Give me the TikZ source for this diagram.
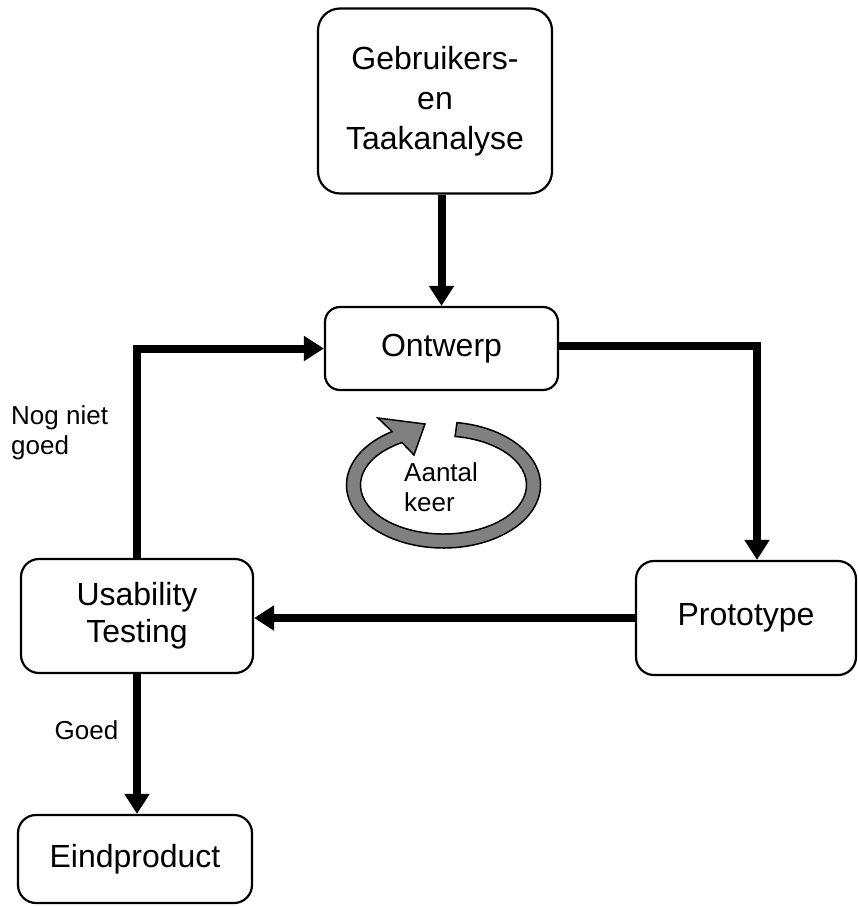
\documentclass[tikz,border=0pt]{standalone}
\usepackage{fontspec}
\setmainfont{Liberation Sans}
\usetikzlibrary{arrows.meta,calc}
\definecolor{ringgray}{RGB}{128,128,128}
\begin{document}
\begin{tikzpicture}[x=1pt,y=-1pt,
  box/.style={draw, line width=2.2pt, rounded corners=18pt, align=center, inner sep=0pt,
    font=\fontsize{32}{37}\selectfont},
  conn/.style={line width=8pt, line join=miter, -{Triangle[length=20pt,width=24pt]}},
  lbl/.style={align=left, inner sep=0pt, font=\fontsize{26}{30}\selectfont}]
\useasboundingbox (0,0) rectangle (858,907);

\node[box, minimum width=234pt, minimum height=185pt, rounded corners=22pt,
  font=\fontsize{32}{40}\selectfont] (top) at (435,101) {Gebruikers-\\en\\Taakanalyse};
\node[box, minimum width=233pt, minimum height=83pt, rounded corners=15pt] (ont) at (441.5,348.5) {Ontwerp};
\node[box, minimum width=220pt, minimum height=114pt] (proto) at (746,618) {Prototype};
\node[box, minimum width=232pt, minimum height=114pt] (usab) at (137,616) {Usability\\Testing};
\node[box, minimum width=234pt, minimum height=88pt] (eind) at (135,859) {Eindproduct};

\coordinate (pin) at ([xshift=11pt]proto.north);
\draw[conn] (ont.north |- top.south) -- (ont.north);
\draw[conn] ([yshift=3pt]ont.east) -| (pin);
\draw[conn] (proto.west) -- (usab.east |- proto.west);
\draw[conn] (usab.north) |- (ont.west);
\draw[conn] (usab.south) -- (usab.south |- eind.north);

\node[lbl, anchor=west] (nog) at (11,433) {Nog niet\\goed};
\node[lbl] (goed) at (86.5,730) {Goed};

\filldraw[fill=ringgray, draw=black, line width=1.5pt, line join=miter]
  (443.5,485) ++(-82:97 and 63) arc[start angle=-82, end angle=238, x radius=97, y radius=63]
  -- (378,418) -- (425,424) -- (414,455)
  -- ($(443.5,485)+(240:83 and 49)$) arc[start angle=240, end angle=-82, x radius=83, y radius=49]
  -- cycle;
\node[lbl, anchor=west] (aantal) at (404,487) {Aantal\\keer};
\end{tikzpicture}
\end{document}
